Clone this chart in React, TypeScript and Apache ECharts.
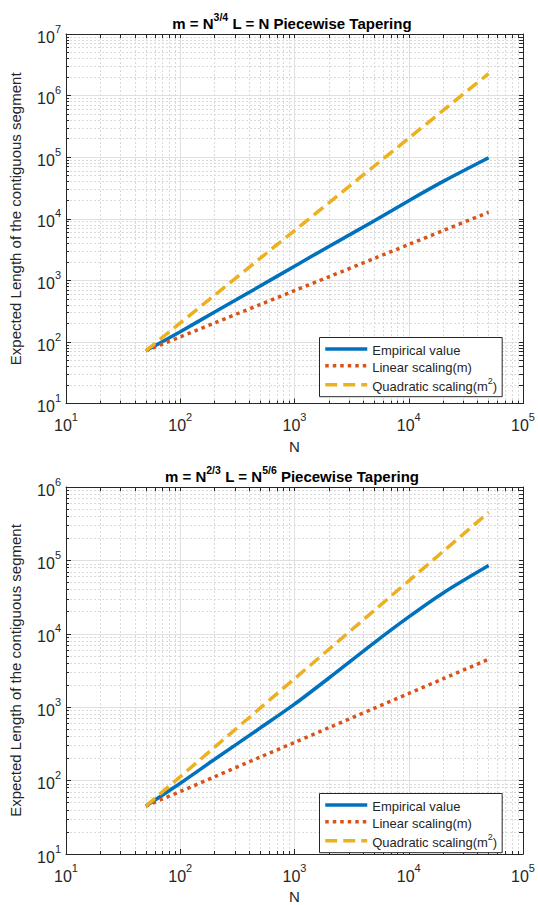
import React, { useEffect, useRef } from 'react';
import * as echarts from 'echarts';

// ---- data ----
const N = [50, 100, 200, 500, 1000, 2000, 5000, 10000, 20000, 50000];

// top panel: m = N^{3/4}, L = N
const empirical1 = [72, 147, 307, 810, 1700, 3550, 9300, 19700, 40500, 98000];
const linear1 = [72, 121, 204, 405, 681, 1145, 2277, 3829, 6440, 12800];
const quadratic1 = [72, 204, 576, 2277, 6440, 18200, 72000, 203600, 576000, 2280000];

// bottom panel: m = N^{2/3}, L = N^{5/6}
const empirical2 = [45, 92, 195, 520, 1100, 2500, 7600, 17000, 36000, 85000];
const linear2 = [45, 71, 113, 209, 331, 526, 970, 1539, 2443, 4500];
const quadratic2 = [45, 113, 286, 970, 2443, 6156, 20890, 52640, 132670, 450000];

const xDecades = [1, 5];
const yDecades1 = [1, 7];
const yDecades2 = [1, 6];

const titles = [
  '{b|m = N}{s|3/4}{b| L = N Piecewise Tapering}',
  '{b|m = N}{s|2/3}{b| L = N}{s|5/6}{b| Piecewise Tapering}',
];
const seriesNames = ['Empirical value', 'Linear scaling(m)', 'Quadratic scaling(m2)'];
const legendLabels = ['{t|Empirical value}', '{t|Linear scaling(m)}', '{t|Quadratic scaling(m}{s|2}{t|)}'];
const xName = 'N';
const yName = 'Expected Length of the contiguous segment';

const BLUE = '#0072BD';
const RED = '#D95319';
const YELLOW = '#EDB120';
const AX = '#262626';
const FONT = 'Liberation Sans, Arial, Helvetica, sans-serif';

function minors(lo: number, hi: number) {
  const out: number[] = [];
  for (let d = lo; d < hi; d++) for (let k = 2; k <= 9; k++) out.push(d + Math.log10(k));
  return out;
}
function alls(lo: number, hi: number) {
  const out: number[] = [];
  for (let d = lo; d <= hi; d++) out.push(d);
  return out.concat(minors(lo, hi));
}

const supRich = {
  b: { fontSize: 16, lineHeight: 22, verticalAlign: 'bottom', color: AX, fontFamily: FONT },
  s: { fontSize: 11, lineHeight: 11, verticalAlign: 'top', color: AX, fontFamily: FONT },
};

const lineStyles = [
  { width: 3.5, color: BLUE, type: 'solid' as any, cap: 'butt' as const },
  { width: 3.5, color: RED, type: [3.5, 4] as any, cap: 'butt' as const },
  { width: 3.5, color: YELLOW, type: [12, 6] as any, cap: 'butt' as const },
];

export default function App() {
  const ref = useRef<HTMLDivElement>(null);
  useEffect(() => {
    if (!ref.current) return;
    const chart = echarts.init(ref.current, undefined, { renderer: 'svg' });

    const grids = [
      { left: 58, top: 34, width: 468, height: 369.6 },
      { left: 58, top: 487, width: 468, height: 367 },
    ];
    const yDec = [yDecades1, yDecades2];
    const dataSets = [
      [empirical1, linear1, quadratic1],
      [empirical2, linear2, quadratic2],
    ];

    const xAxis: any[] = [];
    const yAxis: any[] = [];
    const series: any[] = [];
    const graphic: any[] = [];
    const legend: any[] = [];

    grids.forEach((g, gi) => {
      const xb = gi * 3;
      xAxis.push({
        type: 'log', logBase: 10, gridIndex: gi,
        min: Math.pow(10, xDecades[0]), max: Math.pow(10, xDecades[1]),
        position: 'bottom', splitNumber: 4,
        axisLine: { show: true, onZero: false, lineStyle: { color: AX, width: 1 } },
        axisTick: { show: true, inside: true, length: 5, lineStyle: { color: AX } },
        axisLabel: {
          show: true, margin: 8,
          formatter: (v: number) => `{b|10}{s|${Math.round(Math.log10(v))}}`,
          rich: supRich,
        },
        splitLine: { show: true, lineStyle: { color: '#e0e0e0', width: 1 } },
        name: xName, nameLocation: 'middle', nameGap: 35,
        nameTextStyle: { fontSize: 15, color: AX, fontFamily: FONT },
      });
      xAxis.push({
        type: 'value', gridIndex: gi, min: xDecades[0], max: xDecades[1], position: 'bottom',
        axisLine: { show: false, onZero: false },
        axisTick: { show: true, inside: true, length: 3, customValues: minors(xDecades[0], xDecades[1]), lineStyle: { color: AX } },
        axisLabel: { show: false },
        splitLine: { show: true, lineStyle: { color: '#dadada', width: 1, type: [2, 2] } },
      });
      xAxis.push({
        type: 'value', gridIndex: gi, min: xDecades[0], max: xDecades[1], position: 'top',
        axisLine: { show: true, onZero: false, lineStyle: { color: AX, width: 1 } },
        axisTick: { show: true, inside: true, length: 4, customValues: alls(xDecades[0], xDecades[1]), lineStyle: { color: AX } },
        axisLabel: { show: false },
        splitLine: { show: false },
      });

      const yd = yDec[gi];
      yAxis.push({
        type: 'log', logBase: 10, gridIndex: gi,
        min: Math.pow(10, yd[0]), max: Math.pow(10, yd[1]),
        position: 'left', splitNumber: yd[1] - yd[0],
        axisLine: { show: true, onZero: false, lineStyle: { color: AX, width: 1 } },
        axisTick: { show: true, inside: true, length: 5, lineStyle: { color: AX } },
        axisLabel: {
          show: true, margin: 5,
          formatter: (v: number) => `{b|10}{s|${Math.round(Math.log10(v))}}`,
          rich: supRich,
        },
        splitLine: { show: true, lineStyle: { color: '#e0e0e0', width: 1 } },
        name: yName, nameLocation: 'middle', nameGap: 43, nameRotate: 90,
        nameTextStyle: { fontSize: 15, color: AX, fontFamily: FONT },
      });
      yAxis.push({
        type: 'value', gridIndex: gi, min: yd[0], max: yd[1], position: 'left',
        axisLine: { show: false, onZero: false },
        axisTick: { show: true, inside: true, length: 3, customValues: minors(yd[0], yd[1]), lineStyle: { color: AX } },
        axisLabel: { show: false },
        splitLine: { show: true, lineStyle: { color: '#dadada', width: 1, type: [2, 2] } },
      });
      yAxis.push({
        type: 'value', gridIndex: gi, min: yd[0], max: yd[1], position: 'right',
        axisLine: { show: true, onZero: false, lineStyle: { color: AX, width: 1 } },
        axisTick: { show: true, inside: true, length: 4, customValues: alls(yd[0], yd[1]), lineStyle: { color: AX } },
        axisLabel: { show: false },
        splitLine: { show: false },
      });

      dataSets[gi].forEach((vals, si) => {
        series.push({
          type: 'line', name: seriesNames[si], xAxisIndex: xb, yAxisIndex: xb,
          data: N.map((n, i) => [n, vals[i]]),
          symbol: 'none', smooth: 0.3, lineStyle: lineStyles[si], silent: true,
        });
      });

      graphic.push({
        type: 'text', x: g.left + g.width / 2, y: g.top - 13, z: 10,
        style: {
          text: titles[gi], align: 'center', verticalAlign: 'middle',
          rich: {
            b: { fontSize: 15, fontWeight: 'bold', lineHeight: 20, verticalAlign: 'bottom', fill: '#000', fontFamily: FONT },
            s: { fontSize: 10.5, fontWeight: 'bold', lineHeight: 10, verticalAlign: 'top', fill: '#000', fontFamily: FONT },
          },
        },
      });

      legend.push({
        show: true, orient: 'vertical', left: 319.5, top: gi === 0 ? 337.5 : 793.5,
        z: 10, selectedMode: false,
        backgroundColor: '#ffffff', borderColor: AX, borderWidth: 1, borderRadius: 0,
        padding: [6, 5, 4, 4], itemGap: 3, itemWidth: 42, itemHeight: 14,
        data: seriesNames.map((name, si) => ({
          name,
          itemStyle: { opacity: 0 },
          lineStyle: { color: lineStyles[si].color, width: 3.5, type: lineStyles[si].type, cap: 'butt' },
        })),
        formatter: (name: string) => legendLabels[seriesNames.indexOf(name)],
        textStyle: {
          fontSize: 13, color: AX, fontFamily: FONT,
          rich: {
            t: { fontSize: 13, color: AX, fontFamily: FONT, lineHeight: 16, verticalAlign: 'bottom' },
            s: { fontSize: 9, color: AX, fontFamily: FONT, lineHeight: 9, verticalAlign: 'top' },
          },
        },
      });
    });

    chart.setOption({
      animation: false,
      backgroundColor: '#fff',
      textStyle: { fontFamily: FONT },
      grid: grids.map((g) => ({ ...g, containLabel: false })),
      legend,
      xAxis, yAxis, series, graphic,
    });
    return () => chart.dispose();
  }, []);
  return <div ref={ref} style={{ position: 'absolute', left: 0, top: 0, width: 538, height: 905 }} />;
}
